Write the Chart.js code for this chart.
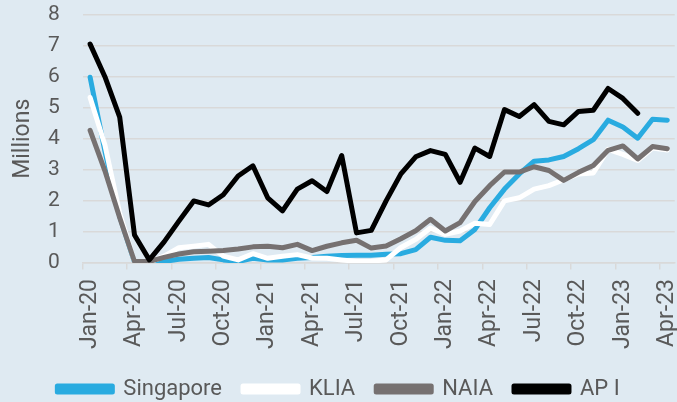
<!DOCTYPE html>
<html>
<head>
<meta charset="utf-8">
<script src="https://cdn.jsdelivr.net/npm/chart.js@4.4.1/dist/chart.umd.min.js"></script>
<style>
  html, body { margin: 0; padding: 0; background: #dfeaf2; }
  #wrap { width: 677px; height: 402px; position: relative; }
</style>
</head>
<body>
<div id="wrap"><canvas id="grafico"></canvas></div>
<script>
// months Jan-20 .. Apr-23
var meses = [
  "Jan-20", "Feb-20", "Mar-20", "Apr-20", "May-20", "Jun-20", "Jul-20", "Aug-20", "Sep-20", "Oct-20", "Nov-20", "Dec-20",
  "Jan-21", "Feb-21", "Mar-21", "Apr-21", "May-21", "Jun-21", "Jul-21", "Aug-21", "Sep-21", "Oct-21", "Nov-21", "Dec-21",
  "Jan-22", "Feb-22", "Mar-22", "Apr-22", "May-22", "Jun-22", "Jul-22", "Aug-22", "Sep-22", "Oct-22", "Nov-22", "Dec-22",
  "Jan-23", "Feb-23", "Mar-23", "Apr-23"
];

// passengers, millions
var singapore = [
  5.98, 3.6, 1.5, 0.03, 0.0, 0.05, 0.12, 0.15, 0.18, 0.1, 0.05, 0.15,
  0.1, 0.1, 0.15, 0.18, 0.22, 0.24, 0.25, 0.25, 0.28, 0.3, 0.43, 0.83,
  0.73, 0.72, 1.08, 1.78, 2.38, 2.87, 3.28, 3.32, 3.43, 3.68, 3.97, 4.6,
  4.38, 4.02, 4.63, 4.6
];
var klia = [
  5.33, 3.8, 1.6, 0.05, 0.02, 0.22, 0.49, 0.54, 0.6, 0.22, 0.1, 0.3,
  0.15, 0.22, 0.27, 0.16, 0.15, 0.1, 0.05, 0.06, 0.1, 0.5, 0.76, 1.13,
  0.92, 1.03, 1.28, 1.24, 2.0, 2.1, 2.38, 2.49, 2.68, 2.87, 2.9, 3.66,
  3.5, 3.3, 3.7, 3.64
];
var naia = [
  4.27, 2.97, 1.46, 0.05, 0.05, 0.18, 0.29, 0.36, 0.38, 0.4, 0.45, 0.52,
  0.54, 0.49, 0.6, 0.4, 0.54, 0.65, 0.73, 0.48, 0.55, 0.78, 1.04, 1.41,
  1.03, 1.3, 1.98, 2.49, 2.93, 2.93, 3.1, 2.98, 2.66, 2.92, 3.14, 3.63,
  3.77, 3.35, 3.75, 3.68
];
var apI = [
  7.05, 6.0, 4.7, 0.9, 0.1, 0.68, 1.35, 2.0, 1.87, 2.2, 2.8, 3.13,
  2.1, 1.68, 2.38, 2.65, 2.3, 3.46, 0.97, 1.05, 2.0, 2.87, 3.42, 3.62,
  3.5, 2.6, 3.7, 3.43, 4.94, 4.72, 5.1, 4.56, 4.45, 4.88, 4.92, 5.62,
  5.3, 4.82, null, null
];

var corTexto = "#595959";
var corGrade = "#d9d9d9";

function linha(label, data, cor, ordem) {
  return {
    label: label,
    data: data,
    borderColor: cor,
    backgroundColor: cor,
    borderWidth: 5,
    pointRadius: 0,
    tension: 0,
    borderJoinStyle: "round",
    borderCapStyle: "round",
    order: ordem
  };
}

const ctx = document.getElementById("grafico");

new Chart(ctx, {
  type: "line",
  data: {
    labels: meses,
    datasets: [
      linha("Singapore", singapore, "#29abe0", 3),
      linha("KLIA", klia, "#ffffff", 2),
      linha("NAIA", naia, "#767171", 1),
      linha("AP I", apI, "#000000", 0)
    ]
  },
  options: {
    responsive: true,
    maintainAspectRatio: false,
    animation: false,
    layout: {
      padding: { top: 0, right: 0, left: 0, bottom: -8 }
    },
    scales: {
      x: {
        offset: true,
        afterFit: function (scale) {
          scale.height = 94;
          scale.paddingLeft = 0;
          scale.paddingRight = 2.3;
        },
        grid: {
          offset: true,
          drawOnChartArea: false,
          drawTicks: true,
          tickLength: 16,
          tickBorderDash: [6, 60],
          lineWidth: 1.5,
          tickColor: function (c) {
            return (c.index !== undefined && c.index % 3 === 0) ? corGrade : "rgba(0,0,0,0)";
          }
        },
        border: { display: true, color: corGrade, width: 1.5 },
        ticks: {
          autoSkip: false,
          maxRotation: 90,
          minRotation: 90,
          padding: 0,
          color: corTexto,
          font: { family: "Roboto", size: 23, lineHeight: 1 },
          callback: function (val, i) {
            return i % 3 === 0 ? meses[i] : "";
          }
        }
      },
      y: {
        min: 0,
        max: 8,
        afterFit: function (scale) { scale.width = 82.7; },
        grid: {
          color: corGrade,
          lineWidth: 1.5,
          drawTicks: true,
          tickLength: 21,
          tickColor: "rgba(0,0,0,0)"
        },
        border: { display: false },
        ticks: {
          stepSize: 1,
          padding: 2,
          color: corTexto,
          font: { family: "Roboto", size: 21 }
        },
        title: {
          display: true,
          text: "Millions",
          color: corTexto,
          font: { family: "Roboto", size: 23 },
          padding: { top: 9, bottom: 0 }
        }
      }
    },
    plugins: {
      legend: {
        display: true,
        position: "bottom",
        reverse: true,
        labels: {
          boxWidth: 55,
          boxHeight: 6,
          padding: 21,
          color: corTexto,
          font: { family: "Roboto", size: 22 }
        }
      },
      tooltip: { enabled: false }
    }
  }
});
</script>
</body>
</html>
